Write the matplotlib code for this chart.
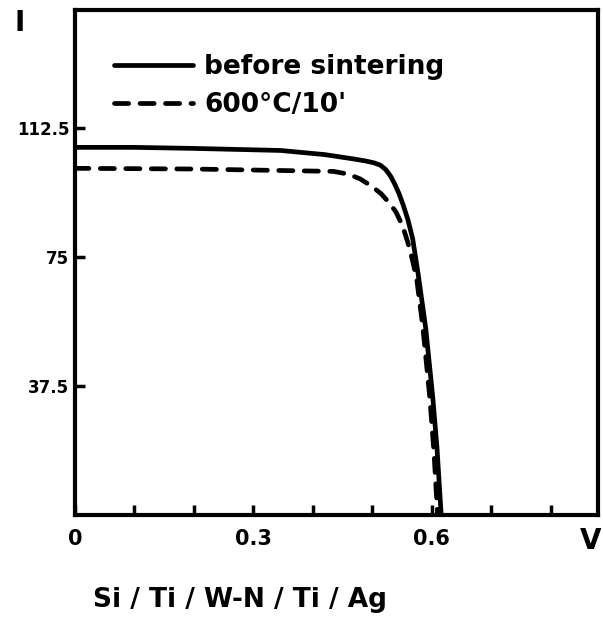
import matplotlib
matplotlib.use("Agg")
import matplotlib.pyplot as plt

# I-V curves (V in volts, I in arbitrary units)
v_before = [0.0, 0.10, 0.20, 0.346, 0.42, 0.470, 0.490, 0.503, 0.514, 0.523,
            0.531, 0.538, 0.545, 0.552, 0.560, 0.568, 0.577, 0.590, 0.602,
            0.609, 0.616]
i_before = [107.0, 107.0, 106.7, 106.1, 104.9, 103.6, 103.0, 102.5, 101.8, 100.5,
            98.6, 96.3, 93.6, 90.3, 86.0, 80.5, 70.5, 54.4, 34.0, 19.5, 0.0]

v_sinter = [0.0, 0.20, 0.435, 0.460, 0.480, 0.500, 0.515, 0.528, 0.540, 0.551,
            0.560, 0.568, 0.575, 0.585, 0.597, 0.604, 0.610]
i_sinter = [100.9, 100.7, 100.0, 99.2, 97.8, 95.6, 93.5, 91.0, 88.2, 84.2,
            79.3, 74.0, 68.5, 55.0, 34.0, 18.0, 0.0]

labels = ["before sintering", "600°C/10'"]
xtick_pos = [0.0, 0.3, 0.6]
xtick_lab = ["0", "0.3", "0.6"]
ytick_pos = [37.5, 75, 112.5]
ytick_lab = ["37.5", "75", "112.5"]

fig = plt.figure(figsize=(6.03, 6.27), dpi=100)
ax = fig.add_axes([0.124, 0.179, 0.868, 0.805])

ax.plot(v_before, i_before, color="black", lw=3.4, solid_capstyle="round",
        solid_joinstyle="round", label=labels[0])
ax.plot(v_sinter, i_sinter, color="black", lw=3.4, dashes=(3.0, 2.4),
        dash_capstyle="round", dash_joinstyle="round", label=labels[1])

ax.set_xlim(0, 0.88)
ax.set_ylim(0, 147)

ax.set_xticks(xtick_pos)
ax.set_xticklabels(xtick_lab, fontsize=15, fontweight="bold")
ax.set_xticks([0.1, 0.2, 0.4, 0.5, 0.7, 0.8], minor=True)
ax.set_yticks(ytick_pos)
ax.set_yticklabels(ytick_lab, fontsize=12, fontweight="bold")
ax.tick_params(axis="x", which="both", direction="in", length=7, width=2.5, pad=10)
ax.tick_params(axis="y", direction="in", length=7, width=2.5, pad=4)

for s in ax.spines.values():
    s.set_linewidth(3)

ax.text(0.985, -0.025, "V", transform=ax.transAxes, ha="center", va="top",
        fontsize=20, fontweight="bold")
ax.text(-0.105, 0.975, "I", transform=ax.transAxes, ha="center", va="center",
        fontsize=20, fontweight="bold")

leg = ax.legend(loc="upper left", bbox_to_anchor=(0.03, 0.96), frameon=False,
                handlelength=3.0, handletextpad=0.4, labelspacing=0.45,
                prop={"size": 19, "weight": "bold"})

fig.text(0.155, 0.043, "Si / Ti / W-N / Ti / Ag", ha="left", va="center",
         fontsize=19, fontweight="bold")

fig.savefig("out.png", dpi=100)
